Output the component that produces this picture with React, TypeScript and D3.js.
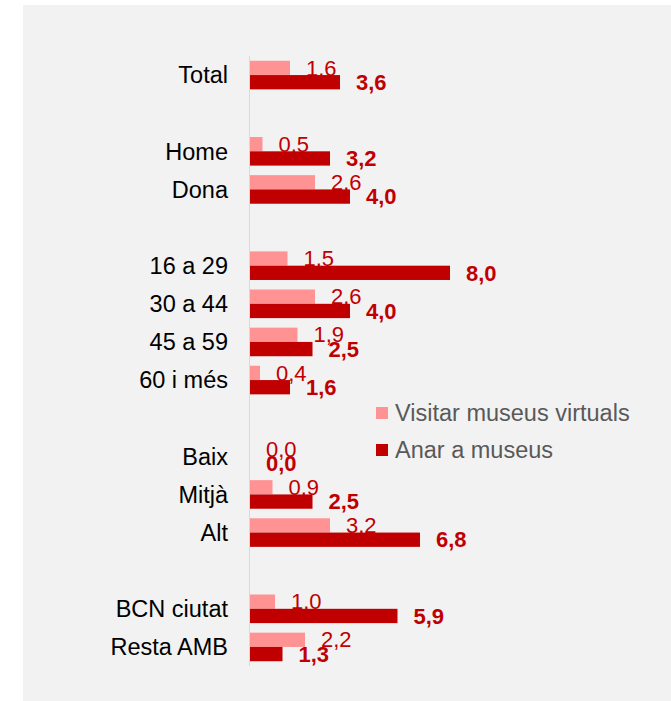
import * as d3 from "d3"

const groups: string[][] = [
  ["Total"],
  ["Home", "Dona"],
  ["16 a 29", "30 a 44", "45 a 59", "60 i més"],
  ["Baix", "Mitjà", "Alt"],
  ["BCN ciutat", "Resta AMB"],
]
const categories = groups.flat()
const virtuals = [1.6, 0.5, 2.6, 1.5, 2.6, 1.9, 0.4, 0.0, 0.9, 3.2, 1.0, 2.2]
const museus = [3.6, 3.2, 4.0, 8.0, 4.0, 2.5, 1.6, 0.0, 2.5, 6.8, 5.9, 1.3]
const seriesNames = ["Visitar museus virtuals", "Anar a museus"]
const colors = ["#ff9393", "#c00000"]

const W = 671
const H = 701
const FONT = "Arial, 'Liberation Sans', sans-serif"

// rows with an empty slot between groups
const rows: string[] = []
groups.forEach((g, i) => {
  if (i > 0) rows.push(`gap${i}`)
  rows.push(...g)
})

const fmt = (v: number) => v.toFixed(1).replace(".", ",")

export default function App() {
  const y = d3.scaleBand().domain(rows).range([56, 666]).paddingInner(0.25).paddingOuter(0.125)
  const sub = d3.scaleBand().domain(["0", "1"]).range([0, y.bandwidth()])
  const x = d3.scaleLinear().domain([0, 16]).range([250, 650])

  return (
    <svg width={W} height={H} style={{ position: "absolute", left: 0, top: 0 }} fontFamily={FONT}>
      <rect x={23} y={5} width={W - 23} height={H - 5} fill="#f2f2f2" />
      <line x1={249.5} x2={249.5} y1={56} y2={666} stroke="#d9d9d9" strokeWidth={1} />
      {categories.map((c, i) => {
        const y0 = y(c)!
        const vals = [virtuals[i], museus[i]]
        return (
          <g key={c}>
            <text
              x={228}
              y={y0 + y.bandwidth() / 2}
              dy="0.35em"
              textAnchor="end"
              fontSize={23.5}
              fill="#000"
            >
              {c}
            </text>
            {vals.map((v, s) => (
              <rect
                key={s}
                x={x(0)}
                y={y0 + sub(String(s))!}
                width={x(v) - x(0)}
                height={sub.bandwidth()}
                fill={colors[s]}
              />
            ))}
            {vals.map((v, s) => (
              <text
                key={"l" + s}
                x={x(v) + 16}
                y={y0 + sub(String(s))! + sub.bandwidth() / 2}
                dy="0.35em"
                fontSize={22}
                fontWeight={s === 1 ? "bold" : "normal"}
                fill="#c00000"
              >
                {fmt(v)}
              </text>
            ))}
          </g>
        )
      })}
      {seriesNames.map((n, i) => (
        <g key={n} transform={`translate(376,${407 + i * 37})`}>
          <rect width={12} height={12} fill={colors[i]} />
          <text x={19} y={6} dy="0.35em" fontSize={23.5} fill="#595959">
            {n}
          </text>
        </g>
      ))}
    </svg>
  )
}
